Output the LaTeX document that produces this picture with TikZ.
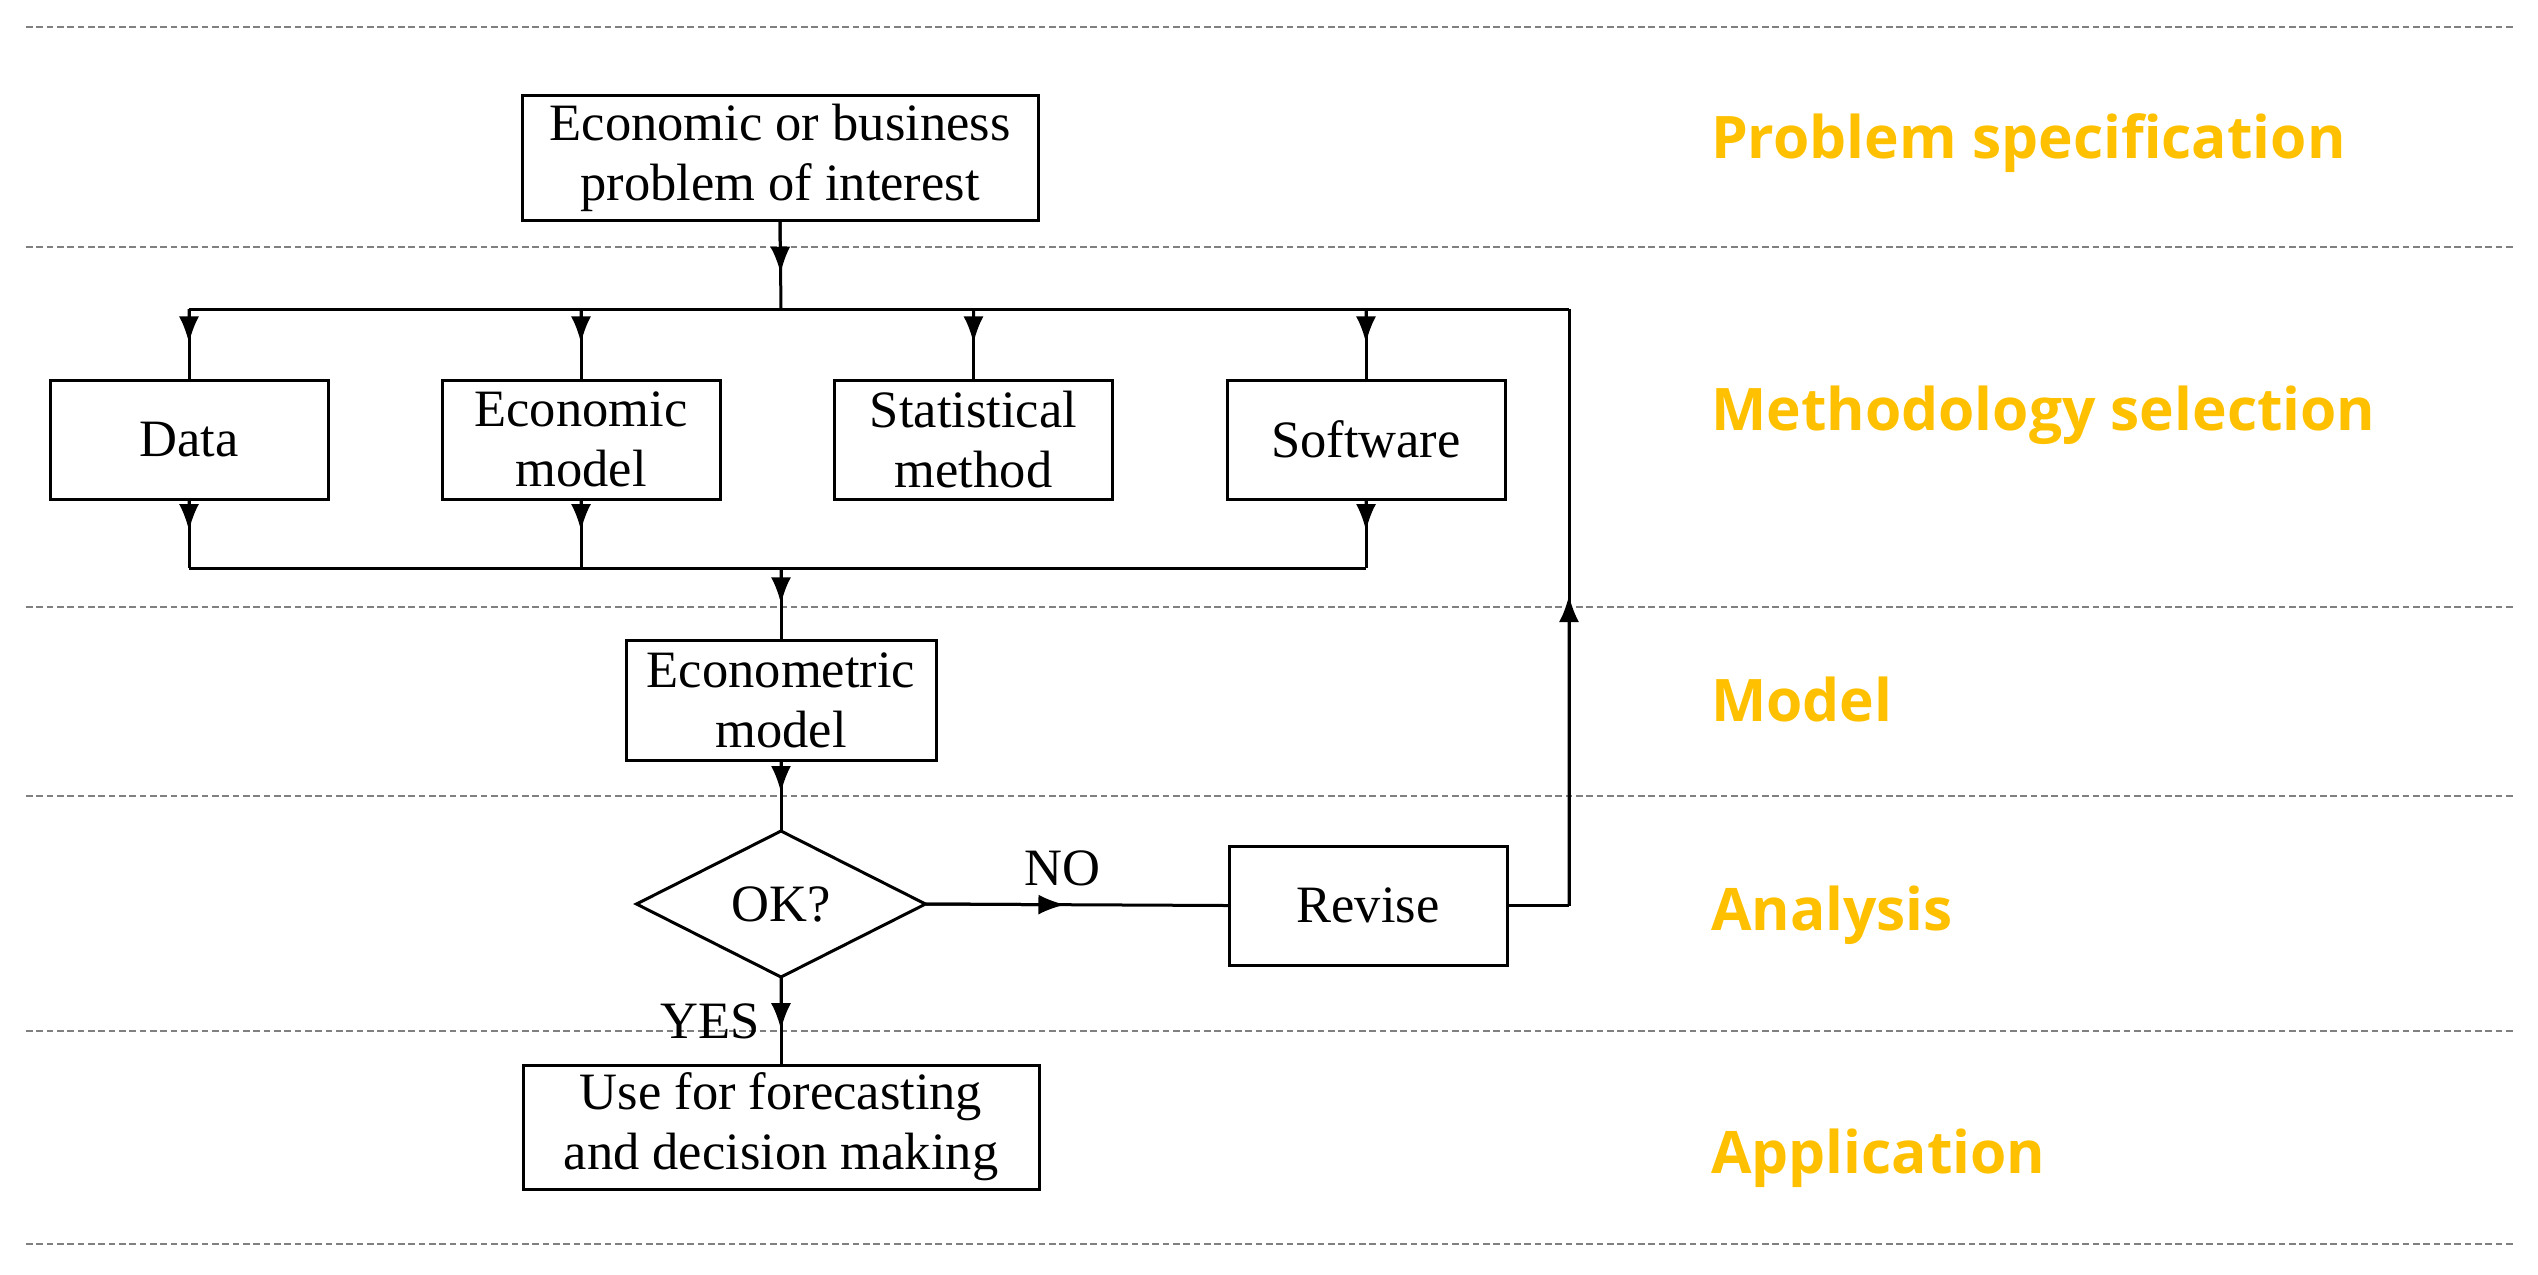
\documentclass[tikz,border=0pt]{standalone}
\usepackage{fontspec}
\setmainfont{Liberation Serif}
\newfontfamily\labelfont{Open Sans}
\usetikzlibrary{shapes.geometric,arrows.meta,calc}
\definecolor{labelgold}{RGB}{255,192,0}
\definecolor{rulegray}{RGB}{128,128,128}
\newcommand\flowarrow[3][0.5]{%
  \draw[conn] (#2) -- (#3);
  \draw[conn,-{Latex[length=8pt,width=6pt]}] (#2) -- ($(#2)!#1!(#3)$);}
\begin{document}
\begin{tikzpicture}[x=0.3pt,y=-0.3pt,
  every node/.style={inner sep=0pt, outer sep=0pt},
  boxfont/.style={font=\fontsize{15.75pt}{18pt}\selectfont},
  flowbox/.style={draw, line width=0.9pt, align=center, boxfont},
  widebox/.style={flowbox, minimum width=154.8pt, minimum height=37.5pt},
  rowbox/.style={flowbox, minimum width=83.4pt, minimum height=35.7pt},
  conn/.style={line width=0.9pt},
  sepline/.style={rulegray, line width=0.6pt, dash pattern=on 2pt off 1.1pt},
  stagelabel/.style={anchor=base west, text=labelgold,
      font=\labelfont\bfseries\fontsize{17.6pt}{20pt}\selectfont},
  flowlabel/.style={boxfont}
]
\useasboundingbox (0,0) rectangle (2538,1274);

% separators
\foreach \yy/\nm in {26.5/s1,247/s2,607/s3,796/s4,1031/s5,1244/s6}{
  \coordinate (\nm L) at (26,\yy);
  \coordinate (\nm R) at (2515,\yy);
  \draw[sepline] (\nm L) -- (\nm R);
}

% stage labels
\node[stagelabel] (lab1) at (1711,158) {Problem specification};
\node[stagelabel] (lab2) at (1711,430) {Methodology selection};
\node[stagelabel] (lab3) at (1711,721) {Model};
\node[stagelabel] (lab4) at (1711,930) {Analysis};
\node[stagelabel] (lab5) at (1711,1173) {Application};

% nodes
\node[widebox] (prob) at (780,157.5) {Economic or business\\problem of interest};
\node[rowbox] (data) at (189,439.5) {Data};
\node[rowbox] (econ) at (581,439.5) {Economic\\model};
\node[rowbox] (stat) at (973.5,439.5) {Statistical\\method};
\node[rowbox] (soft) at (1366,439.5) {Software};
\node[flowbox, minimum width=93pt, minimum height=36pt] (ecm) at (781,700) {Econometric\\model};
\node[diamond, draw, line width=0.9pt, boxfont, aspect=2,
      minimum width=86.7pt, minimum height=43.8pt] (ok) at (781,904) {OK?};
\node[rowbox] (rev) at (1368,905.5) {Revise};
\node[widebox, minimum height=37.2pt] (use) at (781,1127) {Use for forecasting\\and decision making};

% bus coordinates
\coordinate (busL) at (189,309);
\coordinate (busM) at (781,309);
\coordinate (busR) at (1569,309);
\coordinate (lowL) at (189,568);
\coordinate (lowM) at (781,568);
\coordinate (lowR) at (1366,568);
\coordinate (ret) at (1569,905.5);

% connectors
\flowarrow[0.6]{prob.south}{busM}
\draw[conn] (busL) -- (busR);
\flowarrow[0.48]{data.north |- busL}{data.north}
\flowarrow[0.48]{econ.north |- busL}{econ.north}
\flowarrow[0.48]{stat.north |- busL}{stat.north}
\flowarrow[0.48]{soft.north |- busL}{soft.north}

\flowarrow[0.46]{data.south}{lowL}
\flowarrow[0.46]{econ.south}{econ.south |- lowL}
\flowarrow[0.46]{soft.south}{lowR}
\draw[conn] (lowL) -- (lowR);
\flowarrow[0.5]{lowM}{ecm.north}

\flowarrow[0.46]{ecm.south}{ok.north}
\flowarrow[0.46]{ok.east}{rev.west}
\draw[conn] (rev.east) -- (ret);
\flowarrow[0.52]{ret}{busR}
\flowarrow[0.6]{ok.south}{use.north}

% branch labels
\node[flowlabel, anchor=base] (nolab) at (1062,885) {NO};
\node[flowlabel, anchor=base east] (yeslab) at (760,1038) {YES};
\end{tikzpicture}
\end{document}
